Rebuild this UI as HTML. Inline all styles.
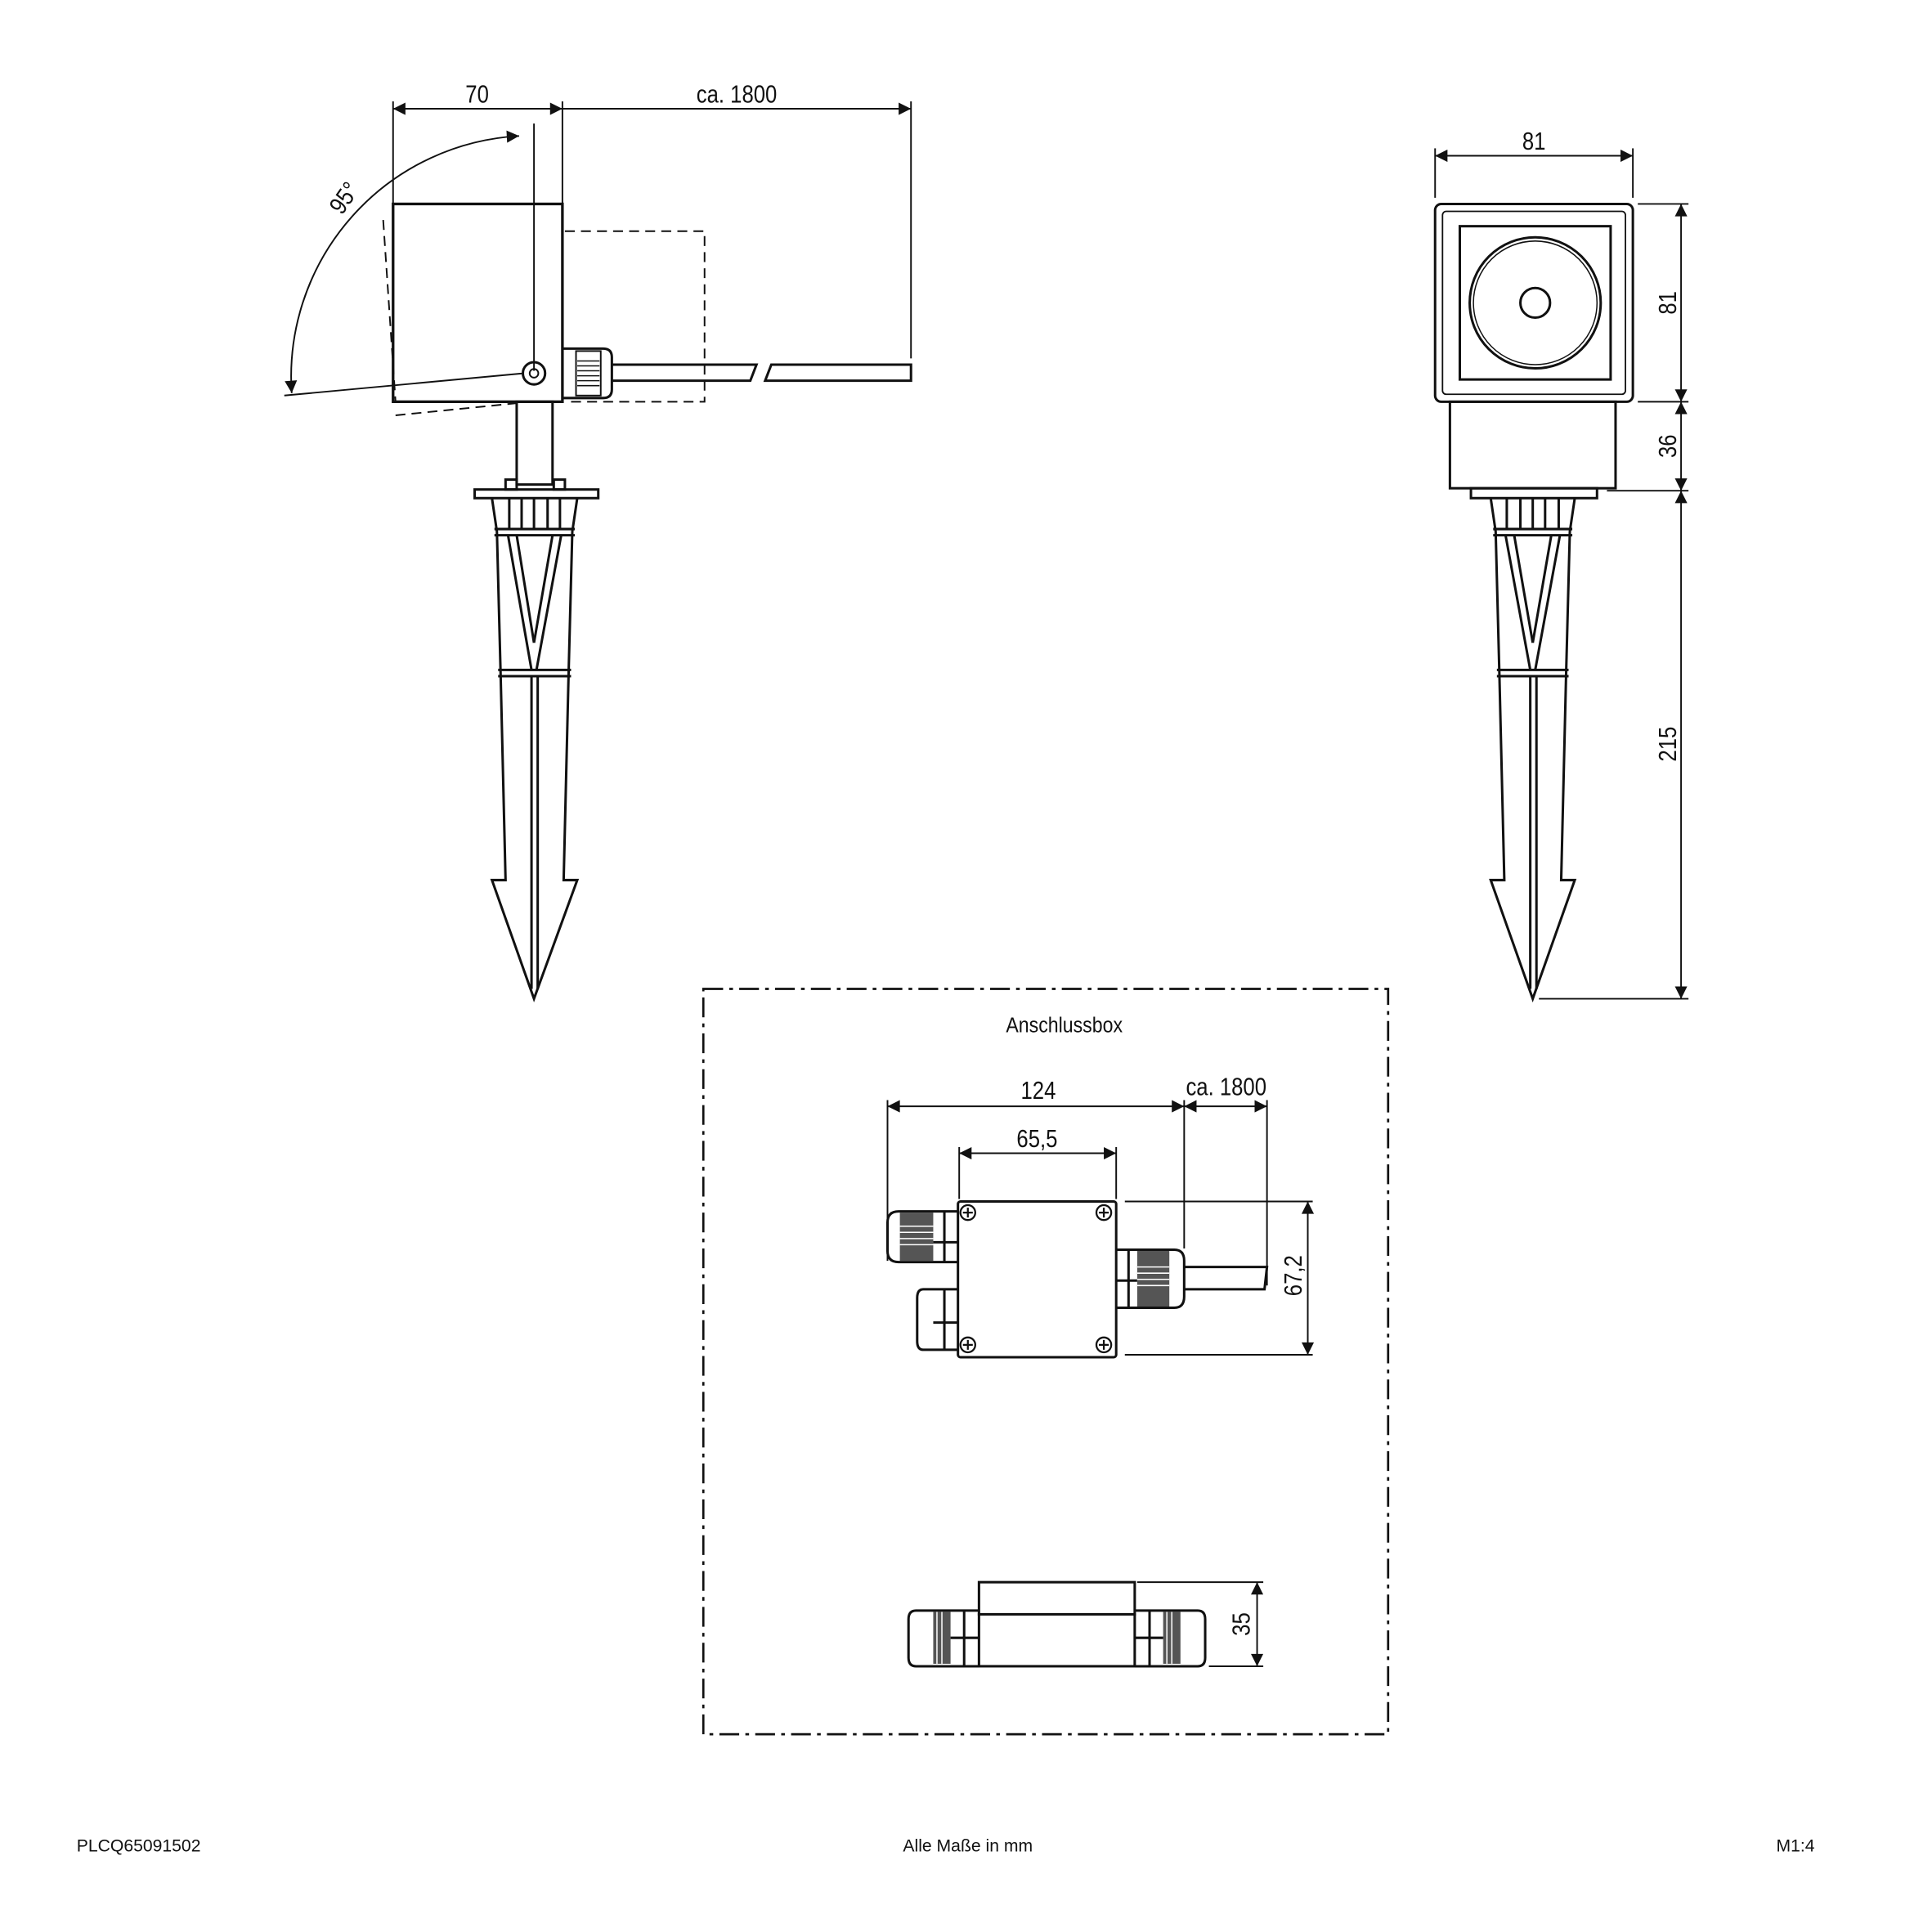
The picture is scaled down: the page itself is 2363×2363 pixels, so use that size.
<!DOCTYPE html>
<html><head><meta charset="utf-8"><style>html,body{margin:0;padding:0;background:#fff}svg{display:block}text{font-family:"Liberation Sans",sans-serif;fill:#111}</style></head>
<body>
<svg width="2363" height="2363" viewBox="0 0 1563 1563" xmlns="http://www.w3.org/2000/svg">
<defs>
<marker id="a" viewBox="0 0 10 10" refX="10" refY="5" markerWidth="14" markerHeight="10" markerUnits="userSpaceOnUse" orient="auto-start-reverse"><path d="M0,0L10,5L0,10z" fill="#111"/></marker>
</defs>
<g stroke="#111" fill="none" stroke-width="1.3">
<!-- LEFT VIEW dims -->
<line x1="318" y1="82" x2="318" y2="165"/><line x1="455" y1="82" x2="455" y2="165"/><line x1="737" y1="82" x2="737" y2="290"/>
<line x1="318" y1="88" x2="455" y2="88" marker-start="url(#a)" marker-end="url(#a)"/>
<line x1="455" y1="88" x2="737" y2="88" marker-end="url(#a)"/>
<line x1="432" y1="100" x2="432" y2="300"/>
<path d="M420,110 A195,195 0 0 0 236,318" marker-start="url(#a)" marker-end="url(#a)"/>
<line x1="424" y1="302" x2="230" y2="320"/>
<!-- dashed -->
<g stroke-dasharray="8,5">
<path d="M310,178 L320,325"/><path d="M320,336 L420,326"/>
<path d="M457,187 H570 V325 H457"/>
</g>
<rect x="318" y="165" width="137" height="160" stroke-width="2.2"/>
<circle cx="432" cy="302" r="9" stroke-width="2"/><circle cx="432" cy="302" r="3.5"/>
<path d="M455,282 H488 Q495,282 495,289 V315 Q495,322 488,322 H455" stroke-width="2"/>
<rect x="466" y="284" width="20" height="36" fill="#fff"/>
<g stroke-width="1"><line x1="467" y1="292" x2="485" y2="292"/><line x1="467" y1="296" x2="485" y2="296"/><line x1="467" y1="300" x2="485" y2="300"/><line x1="467" y1="304" x2="485" y2="304"/><line x1="467" y1="308" x2="485" y2="308"/><line x1="467" y1="312" x2="485" y2="312"/></g>
<path d="M495,295 H612 L607,308 H495" stroke-width="2"/>
<path d="M737,295 H624 L619,308 H737 Z" stroke-width="2"/>
<!-- left stem & spike -->
<g stroke-width="2">
<rect x="418" y="325" width="29" height="67"/>
<rect x="409" y="388" width="9" height="8"/><rect x="448" y="388" width="9" height="8"/>
<rect x="384" y="396" width="100" height="7"/>
<path d="M398,403 L402,430 L405,545 L409,712 L398,712 L432,808 L467,712 L456,712 L460,545 L463,430 L467,403"/>
<line x1="400" y1="428" x2="465" y2="428"/><line x1="400" y1="433" x2="465" y2="433"/>
<line x1="403" y1="542" x2="462" y2="542"/><line x1="403" y1="547" x2="462" y2="547"/>
<line x1="412" y1="403" x2="412" y2="428"/><line x1="422" y1="403" x2="422" y2="428"/><line x1="432" y1="403" x2="432" y2="428"/><line x1="443" y1="403" x2="443" y2="428"/><line x1="453" y1="403" x2="453" y2="428"/>
<line x1="411" y1="433" x2="430" y2="542"/><line x1="418" y1="433" x2="432" y2="520"/><line x1="454" y1="433" x2="434" y2="542"/><line x1="447" y1="433" x2="432" y2="520"/>
<line x1="430" y1="547" x2="430" y2="800"/><line x1="435" y1="547" x2="435" y2="800"/>
</g>
<!-- RIGHT VIEW -->
<line x1="1161" y1="120" x2="1161" y2="160"/><line x1="1321" y1="120" x2="1321" y2="160"/>
<line x1="1161" y1="126" x2="1321" y2="126" marker-start="url(#a)" marker-end="url(#a)"/>
<line x1="1325" y1="165" x2="1366" y2="165"/><line x1="1325" y1="325" x2="1366" y2="325"/><line x1="1300" y1="397" x2="1366" y2="397"/><line x1="1245" y1="808" x2="1366" y2="808"/>
<line x1="1360" y1="165" x2="1360" y2="325" marker-start="url(#a)" marker-end="url(#a)"/>
<line x1="1360" y1="325" x2="1360" y2="397" marker-start="url(#a)" marker-end="url(#a)"/>
<line x1="1360" y1="397" x2="1360" y2="808" marker-start="url(#a)" marker-end="url(#a)"/>
<g stroke-width="2">
<rect x="1161" y="165" width="160" height="160" rx="5"/>
<rect x="1167" y="171" width="148" height="148" rx="3" stroke-width="1.2"/>
<rect x="1181" y="183" width="122" height="124"/>
<circle cx="1242" cy="245" r="53"/><circle cx="1242" cy="245" r="50" stroke-width="1"/><circle cx="1242" cy="245" r="12"/>
<rect x="1173" y="325" width="134" height="70"/>
<rect x="1190" y="395" width="102" height="8"/>
<path d="M1206,403 L1210,430 L1213,545 L1217,712 L1206,712 L1240,808 L1274,712 L1263,712 L1267,545 L1270,430 L1274,403"/>
<line x1="1208" y1="428" x2="1272" y2="428"/><line x1="1208" y1="433" x2="1272" y2="433"/>
<line x1="1211" y1="542" x2="1269" y2="542"/><line x1="1211" y1="547" x2="1269" y2="547"/>
<line x1="1219" y1="403" x2="1219" y2="428"/><line x1="1230" y1="403" x2="1230" y2="428"/><line x1="1240" y1="403" x2="1240" y2="428"/><line x1="1250" y1="403" x2="1250" y2="428"/><line x1="1261" y1="403" x2="1261" y2="428"/>
<line x1="1218" y1="433" x2="1238" y2="542"/><line x1="1225" y1="433" x2="1240" y2="520"/><line x1="1262" y1="433" x2="1242" y2="542"/><line x1="1255" y1="433" x2="1240" y2="520"/>
<line x1="1238" y1="547" x2="1238" y2="800"/><line x1="1243" y1="547" x2="1243" y2="800"/>
</g>
<!-- FRAME -->
<rect x="569" y="800" width="554" height="603" stroke-width="1.8" stroke-dasharray="16,5,3,5"/>
<!-- junction box top -->
<line x1="718" y1="890" x2="718" y2="1020"/><line x1="958" y1="890" x2="958" y2="1010"/><line x1="1025" y1="890" x2="1025" y2="1040"/>
<line x1="718" y1="895" x2="958" y2="895" marker-start="url(#a)" marker-end="url(#a)"/>
<line x1="958" y1="895" x2="1025" y2="895" marker-start="url(#a)" marker-end="url(#a)"/>
<line x1="776" y1="928" x2="776" y2="970"/><line x1="903" y1="928" x2="903" y2="970"/>
<line x1="776" y1="933" x2="903" y2="933" marker-start="url(#a)" marker-end="url(#a)"/>
<line x1="910" y1="972" x2="1062" y2="972"/><line x1="910" y1="1096" x2="1062" y2="1096"/>
<line x1="1058" y1="972" x2="1058" y2="1096" marker-start="url(#a)" marker-end="url(#a)"/>
<g stroke-width="2">
<rect x="775" y="972" width="128" height="126" rx="2"/>
<path d="M775,980 H727 Q718,980 718,989 V1012 Q718,1021 727,1021 H775"/>
<line x1="764" y1="980" x2="764" y2="1021"/><line x1="755" y1="1005" x2="775" y2="1005"/>
<path d="M775,1043 H747 Q742,1043 742,1050 V1085 Q742,1092 747,1092 H775"/>
<line x1="764" y1="1043" x2="764" y2="1092"/><line x1="755" y1="1070" x2="775" y2="1070"/>
<path d="M903,1011 H950 Q958,1011 958,1020 V1049 Q958,1058 950,1058 H903"/>
<line x1="913" y1="1011" x2="913" y2="1058"/><line x1="903" y1="1036" x2="920" y2="1036"/>
<path d="M958,1025 H1025 L1023,1043 H958"/>
</g>
<g fill="#555" stroke="none"><rect x="728" y="981" width="27" height="39"/><rect x="920" y="1012" width="26" height="45"/><rect x="755" y="1304" width="14" height="42"/><rect x="941" y="1304" width="14" height="42"/></g>
<g stroke="#fff" stroke-width="1"><line x1="728" y1="992" x2="755" y2="992"/><line x1="728" y1="997" x2="755" y2="997"/><line x1="728" y1="1002" x2="755" y2="1002"/><line x1="728" y1="1007" x2="755" y2="1007"/>
<line x1="920" y1="1025" x2="946" y2="1025"/><line x1="920" y1="1030" x2="946" y2="1030"/><line x1="920" y1="1035" x2="946" y2="1035"/><line x1="920" y1="1040" x2="946" y2="1040"/>
<line x1="758" y1="1304" x2="758" y2="1346"/><line x1="762" y1="1304" x2="762" y2="1346"/><line x1="944" y1="1304" x2="944" y2="1346"/><line x1="948" y1="1304" x2="948" y2="1346"/></g>
<g stroke-width="1.5"><circle cx="783" cy="981" r="6"/><circle cx="893" cy="981" r="6"/><circle cx="783" cy="1088" r="6"/><circle cx="893" cy="1088" r="6"/>
<path d="M779,981h8M783,977v8M889,981h8M893,977v8M779,1088h8M783,1084v8M889,1088h8M893,1084v8"/></g>
<!-- side view -->
<g stroke-width="2">
<rect x="792" y="1280" width="126" height="26"/><rect x="792" y="1306" width="126" height="42"/>
<path d="M792,1303 H741 Q735,1303 735,1310 V1341 Q735,1348 741,1348 H792"/>
<path d="M918,1303 H969 Q975,1303 975,1310 V1341 Q975,1348 969,1348 H918"/>
<line x1="780" y1="1303" x2="780" y2="1348"/><line x1="930" y1="1303" x2="930" y2="1348"/>
<line x1="769" y1="1325" x2="792" y2="1325"/><line x1="918" y1="1325" x2="941" y2="1325"/>
</g>
<line x1="920" y1="1280" x2="1022" y2="1280"/><line x1="978" y1="1348" x2="1022" y2="1348"/>
<line x1="1017" y1="1280" x2="1017" y2="1348" marker-start="url(#a)" marker-end="url(#a)"/>
</g>
<g font-size="20" text-anchor="middle">
<text x="386" y="83" transform="translate(386 0) scale(0.85 1) translate(-386 0)">70</text>
<text x="596" y="83" transform="translate(596 0) scale(0.85 1) translate(-596 0)">ca. 1800</text>
<text transform="translate(284,164) rotate(-55) scale(0.85 1)">95°</text>
<text x="1241" y="121" transform="translate(1241 0) scale(0.85 1) translate(-1241 0)">81</text>
<text transform="translate(1356,245) rotate(-90) scale(0.85 1)">81</text>
<text transform="translate(1356,361) rotate(-90) scale(0.85 1)">36</text>
<text transform="translate(1356,602) rotate(-90) scale(0.85 1)">215</text>
<text x="861" y="835" font-size="17" transform="translate(861 0) scale(0.9 1) translate(-861 0)">Anschlussbox</text>
<text x="840" y="889" transform="translate(840 0) scale(0.85 1) translate(-840 0)">124</text>
<text x="992" y="886" transform="translate(992 0) scale(0.85 1) translate(-992 0)">ca. 1800</text>
<text x="839" y="928" transform="translate(839 0) scale(0.85 1) translate(-839 0)">65,5</text>
<text transform="translate(1053,1032) rotate(-90) scale(0.85 1)">67,2</text>
<text transform="translate(1011,1314) rotate(-90) scale(0.85 1)">35</text>
</g>
<g font-size="14">
<text x="62" y="1498">PLCQ65091502</text>
<text x="783" y="1498" text-anchor="middle">Alle Maße in mm</text>
<text x="1437" y="1498">M1:4</text>
</g>
</svg>
</body></html>
